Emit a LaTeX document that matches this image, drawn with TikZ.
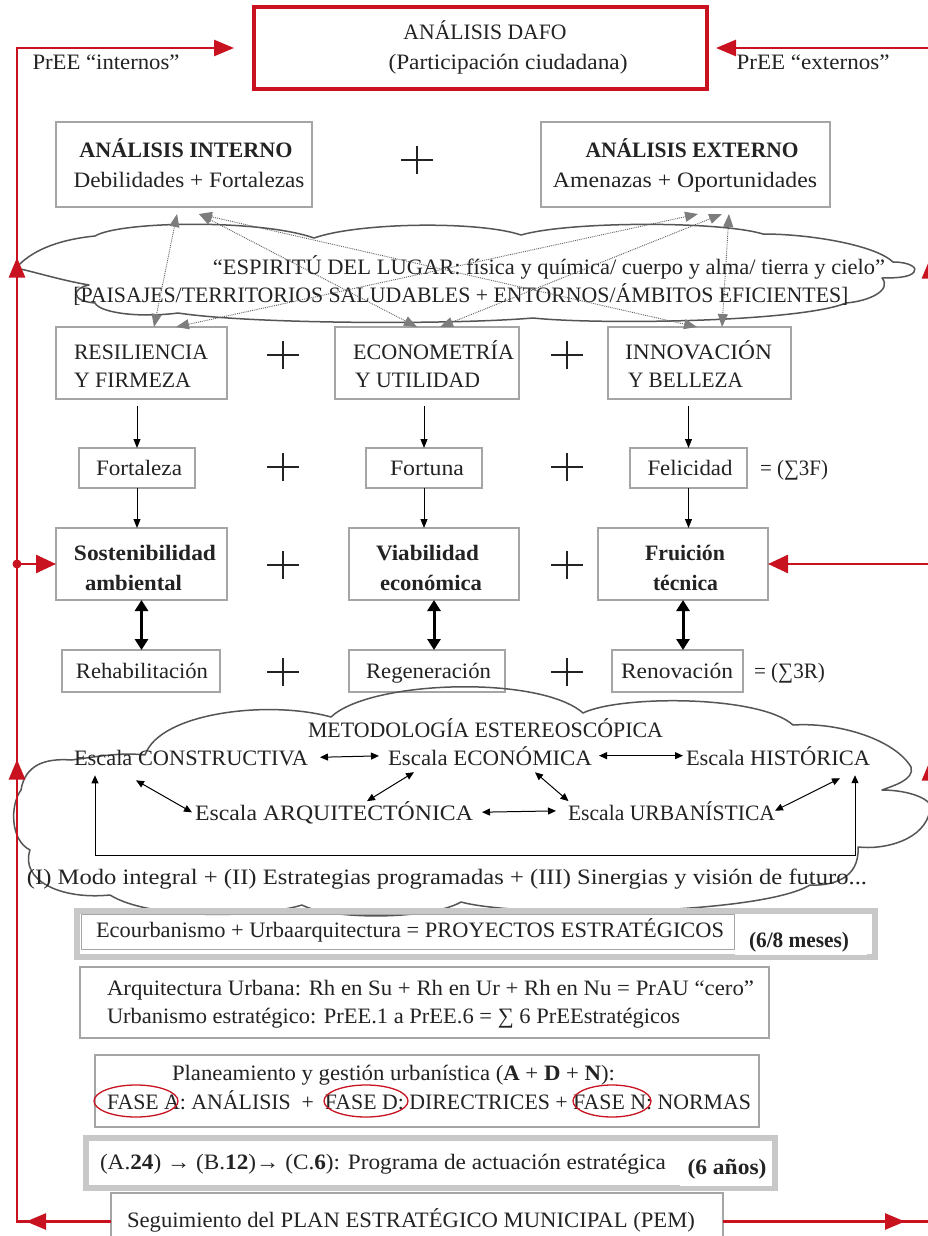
\documentclass[tikz,border=0pt]{standalone}
\usepackage{fontspec}
\setmainfont{Liberation Serif}
\usepackage{graphicx}
\usetikzlibrary{arrows.meta,shapes.geometric,decorations.markings,calc}
\definecolor{textc}{RGB}{35,35,35}
\definecolor{boxc}{RGB}{165,165,165}
\definecolor{framec}{RGB}{200,200,200}
\definecolor{cloudc}{RGB}{85,85,85}
\definecolor{redc}{RGB}{200,18,32}
\definecolor{dotc}{RGB}{95,95,95}
\definecolor{headc}{RGB}{125,125,125}
\newcommand{\fw}[2]{\resizebox{#1}{\height}{#2}}
\begin{document}
\begin{tikzpicture}[x=1pt,y=-1pt,
  txt/.style={inner sep=0pt, outer sep=0pt, text=textc, font=\fontsize{22}{26}\selectfont, anchor=base},
  txtl/.style={txt, anchor=base west},
  gbox/.style={rectangle, draw=boxc, line width=1.5pt, inner sep=0pt, outer sep=0pt},
  thickframe/.style={rectangle, draw=framec, line width=6pt, inner sep=0pt, outer sep=0pt},
  plussign/.style={minimum width=32pt, minimum height=28pt, inner sep=0pt,
    path picture={\draw[textc, line width=1.1pt]
      (path picture bounding box.north) -- (path picture bounding box.south)
      (path picture bounding box.west) -- (path picture bounding box.east);}},
  redline/.style={draw=redc, line width=2.6pt},
  redtip/.style={-{Triangle[length=20pt,width=16pt]}},
  blkarr/.style={draw=black, line width=1pt, -{Triangle[length=9pt,width=7pt]}},
  thkarr/.style={draw=black, line width=3pt, {Triangle[length=11pt,width=13pt]}-{Triangle[length=11pt,width=13pt]}},
  smarr/.style={draw=black, line width=1pt, {Triangle[length=8pt,width=7pt]}-{Triangle[length=8pt,width=7pt]}},
  dotarr/.style={draw=dotc, densely dotted, line width=0.9pt,
    {Triangle[length=13pt,width=10pt,color=headc]}-{Triangle[length=13pt,width=10pt,color=headc]}},
  cloudline/.style={draw=cloudc, line width=1.5pt, line join=round},
  redell/.style={ellipse, draw=redc, line width=1.3pt, inner sep=0pt}
]
\useasboundingbox (0,0) rectangle (927,1236);
\fill[white] (0,0) rectangle (927,1236);

% ---------- DAFO ----------
\node[gbox, draw=redc, line width=3.5pt, minimum width=453pt, minimum height=82pt] (dafo) at (480.5,48) {};
\node[txt] (tdafo1) at (485,40) {\fw{163pt}{ANÁLISIS DAFO}};
\node[txt] (tdafo2) at (508,70) {\fw{239pt}{(Participación ciudadana)}};
\node[txt] (pint) at (106,70) {\fw{147pt}{PrEE “internos”}};
\node[txt] (pext) at (813,70) {\fw{153pt}{PrEE “externos”}};

% ---------- Analysis boxes ----------
\node[gbox, minimum width=256pt, minimum height=85pt] (int) at (184,164.5) {};
\node[txt] (int1) at (186,157) {\fw{213pt}{\textbf{ANÁLISIS INTERNO}}};
\node[txt] (int2) at (189,187) {\fw{231pt}{Debilidades + Fortalezas}};
\node[gbox, minimum width=289pt, minimum height=85pt] (ext) at (685.5,164.5) {};
\node[txt] (ext1) at (692,157) {\fw{213pt}{\textbf{ANÁLISIS EXTERNO}}};
\node[txt] (ext2) at (685,187) {\fw{264pt}{Amenazas + Oportunidades}};
\node[plussign] (p0) at (417,160) {};

% ---------- Cloud 1 ----------
\draw[cloudline] (16,268) .. controls (30,252) and (55,240) .. (95,236)
  .. controls (120,221) and (260,219) .. (314,238)
  .. controls (360,222) and (480,221) .. (521,235)
  .. controls (570,221) and (720,221) .. (763,234)
  .. controls (810,234) and (875,245) .. (893,262)
  .. controls (910,262) and (918,268) .. (914,272)
  .. controls (910,278) and (892,278) .. (882,278)
  .. controls (892,290) and (870,301) .. (846,303)
  .. controls (800,322) and (600,325) .. (533,318)
  .. controls (450,325) and (250,324) .. (178,313)
  .. controls (140,318) and (100,313) .. (95,303)
  .. controls (70,301) and (72,288) .. (89,285)
  .. controls (60,280) and (35,272) .. (16,268) -- cycle;
\node[txt] (c1a) at (549,274) {\fw{672pt}{“ESPIRITÚ DEL LUGAR: física y química/ cuerpo y alma/ tierra y cielo”}};
\node[txt] (c1b) at (461,302) {\fw{775pt}{[PAISAJES/TERRITORIOS SALUDABLES + ENTORNOS/ÁMBITOS EFICIENTES]}};

% ---------- Row 3 ----------
\node[gbox, minimum width=171pt, minimum height=72pt] (res) at (141.5,363) {};
\node[txtl] (res1) at (74,359) {\fw{134pt}{RESILIENCIA}};
\node[txtl] (res2) at (74,387) {\fw{117pt}{Y FIRMEZA}};
\node[gbox, minimum width=184pt, minimum height=72pt] (eco) at (427,363) {};
\node[txtl] (eco1) at (353,359) {\fw{161pt}{ECONOMETRÍA}};
\node[txtl] (eco2) at (355,387) {\fw{125pt}{Y UTILIDAD}};
\node[gbox, minimum width=183pt, minimum height=72pt] (inn) at (699.5,363) {};
\node[txtl] (inn1) at (625,359) {\fw{147pt}{INNOVACIÓN}};
\node[txtl] (inn2) at (628,387) {\fw{115pt}{Y BELLEZA}};
\node[plussign] (p1) at (283,355) {};
\node[plussign] (p2) at (567,355) {};

% dotted links
\draw[dotarr] ([shift={(-7,7)}]int.south) -- ([shift={(12.5,0)}]res.north);
\draw[dotarr] ([shift={(15,7)}]int.south) -- ([shift={(-10,0)}]eco.north);
\draw[dotarr] ([shift={(15,7)}]int.south) -- ([shift={(-2.5,0)}]inn.north);
\draw[dotarr] ([shift={(12.5,7)}]ext.south) -- ([shift={(34.5,0)}]res.north);
\draw[dotarr] ([shift={(36.5,7)}]ext.south) -- ([shift={(13,0)}]eco.north);
\draw[dotarr] ([shift={(43.5,7)}]ext.south) -- ([shift={(22.5,0)}]inn.north);

% ---------- Row 4 ----------
\node[gbox, minimum width=116pt, minimum height=40pt] (fort) at (137,468) {};
\node[txt] (tfort) at (139,475) {\fw{86pt}{Fortaleza}};
\node[gbox, minimum width=116pt, minimum height=40pt] (fortu) at (424,468) {};
\node[txt] (tfortu) at (427,475) {\fw{74pt}{Fortuna}};
\node[gbox, minimum width=117pt, minimum height=40pt] (feli) at (688.5,468) {};
\node[txt] (tfeli) at (690,475) {\fw{85pt}{Felicidad}};
\node[txt] (sum3f) at (794,475) {\fw{68pt}{= (∑3F)}};
\node[plussign] (p3) at (283,467) {};
\node[plussign] (p4) at (567,467) {};

\draw[blkarr] ($(fort.north |- res.south)+(0,7)$) -- (fort.north);
\draw[blkarr] ($(fortu.north |- eco.south)+(0,7)$) -- (fortu.north);
\draw[blkarr] ($(feli.north |- inn.south)+(0,7)$) -- (feli.north);

% ---------- Row 5 ----------
\node[gbox, minimum width=171pt, minimum height=72pt] (sost) at (141.5,564) {};
\node[txt] (sost1) at (145,560) {\fw{142pt}{\textbf{Sostenibilidad}}};
\node[txt] (sost2) at (133.5,590) {\fw{97pt}{\textbf{ambiental}}};
\node[gbox, minimum width=170pt, minimum height=72pt] (viab) at (434,564) {};
\node[txt] (viab1) at (427.5,560) {\fw{103pt}{\textbf{Viabilidad}}};
\node[txt] (viab2) at (431,590) {\fw{102pt}{\textbf{económica}}};
\node[gbox, minimum width=170pt, minimum height=72pt] (frui) at (683,564) {};
\node[txt] (frui1) at (685,560) {\fw{80pt}{\textbf{Fruición}}};
\node[txt] (frui2) at (685.5,590) {\fw{65pt}{\textbf{técnica}}};
\node[plussign] (p5) at (283,565) {};
\node[plussign] (p6) at (567,565) {};

\draw[blkarr] (fort.south) -- (fort.south |- sost.north);
\draw[blkarr] (fortu.south) -- (fortu.south |- viab.north);
\draw[blkarr] (feli.south) -- (feli.south |- frui.north);

% ---------- Row 6 ----------
\node[gbox, minimum width=158pt, minimum height=42pt] (rehab) at (141,671) {};
\node[txt] (trehab) at (142,678) {\fw{132pt}{Rehabilitación}};
\node[gbox, minimum width=156pt, minimum height=42pt] (regen) at (427,671) {};
\node[txt] (tregen) at (428.5,678) {\fw{125pt}{Regeneración}};
\node[gbox, minimum width=131pt, minimum height=42pt] (renov) at (677.5,671) {};
\node[txt] (trenov) at (677,678) {\fw{112pt}{Renovación}};
\node[txt] (sum3r) at (789.5,678) {\fw{71pt}{= (∑3R)}};
\node[plussign] (p7) at (283,672) {};
\node[plussign] (p8) at (567,672) {};

\draw[thkarr] (sost.south) -- (sost.south |- rehab.north);
\draw[thkarr] (viab.south) -- (viab.south |- regen.north);
\draw[thkarr] (frui.south) -- (frui.south |- renov.north);

% ---------- Cloud 2 ----------
\draw[cloudline] (21,790) .. controls (25,765) and (45,758) .. (71,760)
  .. controls (95,757) and (120,752) .. (145,755)
  .. controls (160,712) and (270,700) .. (331,717)
  .. controls (370,680) and (540,675) .. (583,713)
  .. controls (620,695) and (760,695) .. (793,725)
  .. controls (840,722) and (895,740) .. (911,767)
  .. controls (915,780) and (892,786) .. (882,790)
  .. controls (910,790) and (935,800) .. (930,810)
  .. controls (925,840) and (885,850) .. (858,847)
  .. controls (860,880) and (830,886) .. (810,885)
  .. controls (760,915) and (520,918) .. (461,902)
  .. controls (430,920) and (330,920) .. (302,905)
  .. controls (260,918) and (150,920) .. (110,895)
  .. controls (60,900) and (20,880) .. (30,850)
  .. controls (10,840) and (10,805) .. (21,790) -- cycle;
\node[txt] (meto) at (485.5,737) {\fw{355pt}{METODOLOGÍA ESTEREOSCÓPICA}};
\node[txt] (cons) at (191,765) {\fw{234pt}{Escala CONSTRUCTIVA}};
\node[txt] (econ) at (490,765) {\fw{204pt}{Escala ECONÓMICA}};
\node[txt] (hist) at (778,765) {\fw{184pt}{Escala HISTÓRICA}};
\node[txt] (arq) at (334,820) {\fw{278pt}{Escala ARQUITECTÓNICA}};
\node[txt] (urb) at (671.5,820) {\fw{207pt}{Escala URBANÍSTICA}};
\node[txt] (modo) at (447,884) {\fw{840pt}{(I) Modo integral + (II) Estrategias programadas + (III) Sinergias y visión de futuro...}};

\draw[smarr, shorten <=12pt, shorten >=9pt] (cons.east) -- (econ.west);
\draw[smarr, shorten <=7pt, shorten >=3pt] (econ.east) -- (hist.west);
\draw[smarr, shorten <=9pt, shorten >=12pt] (arq.east) -- (urb.west);
\draw[smarr] ([shift={(-55,15)}]cons.south) -- ([xshift=-3pt]arq.west);
\draw[smarr] ([shift={(-76,7)}]econ.south) -- ([shift={(33,0)}]arq.north);
\draw[smarr] ([shift={(45,7)}]econ.south) -- ([shift={(-103,0)}]urb.north);
\draw[smarr] ([shift={(62,13)}]hist.south) -- (urb.east);
\coordinate (fbL) at (95,855);
\coordinate (fbR) at (855,855);
\draw[smarr] ([shift={(-96,10)}]cons.south) -- (fbL) -- (fbR) -- ([shift={(77,10)}]hist.south);

% ---------- Lower boxes ----------
\node[thickframe, minimum width=798pt, minimum height=46pt] (ecof) at (476,934) {};
\node[rectangle, draw=boxc, line width=0.8pt, inner sep=0pt, minimum width=653pt, minimum height=35pt] (ecoin) at (407.5,932) {};
\node[txtl] (ecot) at (96,937) {\fw{628pt}{Ecourbanismo + Urbaarquitectura = PROYECTOS ESTRATÉGICOS}};
\node[rectangle, fill=white, inner sep=0pt, minimum width=132pt, minimum height=36pt] (mesp) at (801,937) {};
\node[txt] (meses) at (799,947) {\fw{100pt}{\textbf{(6/8 meses)}}};

\node[gbox, line width=1.2pt, minimum width=689pt, minimum height=71pt] (arqb) at (424.5,1002.5) {};
\node[txtl] (arq1) at (107,995) {\fw{647pt}{Arquitectura Urbana: Rh en Su + Rh en Ur + Rh en Nu = PrAU “cero”}};
\node[txtl] (arq2) at (107,1023) {\fw{573pt}{Urbanismo estratégico: PrEE.1 a PrEE.6 = ∑ 6 PrEEstratégicos}};

\node[gbox, line width=1.2pt, minimum width=664pt, minimum height=72pt] (planb) at (427,1091) {};
\node[txtl] (plan1) at (172,1080) {\fw{443pt}{Planeamiento y gestión urbanística (\textbf{A} + \textbf{D} + \textbf{N}):}};
\node[txtl] (plan2) at (107,1109) {\fw{644pt}{FASE A: ANÁLISIS \ + \ FASE D: DIRECTRICES + FASE N: NORMAS}};
\node[redell, minimum width=84pt, minimum height=32pt] (eA) at (136,1101) {};
\node[redell, minimum width=84pt, minimum height=32pt] (eD) at (366,1101) {};
\node[redell, minimum width=78pt, minimum height=32pt] (eN) at (612,1101) {};

\node[thickframe, minimum width=689pt, minimum height=50pt] (progf) at (430.5,1163) {};
\node[txtl] (prog) at (100,1169) {\fw{566pt}{(A.\textbf{24}) \textbf{→} (B.\textbf{12})\textbf{→} (C.\textbf{6}): Programa de actuación estratégica}};
\node[rectangle, fill=white, inner sep=0pt, minimum width=92pt, minimum height=40pt] (anosp) at (726,1166) {};
\node[txt] (anos) at (727,1174) {\fw{79pt}{\textbf{(6 años)}}};

\node[gbox, line width=1.2pt, minimum width=612pt, minimum height=57pt] (seg) at (417,1221.5) {};
\node[txtl] (segt) at (127,1227) {\fw{568pt}{Seguimiento del PLAN ESTRATÉGICO MUNICIPAL (PEM)}};

% ---------- Red feedback loops ----------
\coordinate (lb) at (17,1221.5);
\coordinate (lt) at (17,48);
\coordinate (rb) at (930,1221.5);
\coordinate (rt) at (930,48);
\coordinate (lmid) at (17,564);
\coordinate (rmid) at (930,564);
\draw[redline, redtip, postaction={decorate}, decoration={markings,
    mark=at position 85pt with {\arrow{Triangle[length=20pt,width=16pt]}},
    mark=at position 556pt with {\arrow{Triangle[length=20pt,width=16pt]}},
    mark=at position 1058pt with {\arrow{Triangle[length=20pt,width=16pt]}}}]
  (seg.west) -- (lb) -- (lt) -- ([xshift=-20pt]dafo.west);
\draw[redline, redtip, postaction={decorate}, decoration={markings,
    mark=at position 182pt with {\arrow{Triangle[length=20pt,width=16pt]}},
    mark=at position 668pt with {\arrow{Triangle[length=20pt,width=16pt]}},
    mark=at position 1170pt with {\arrow{Triangle[length=20pt,width=16pt]}}}]
  (seg.east) -- (rb) -- (rt) -- ([xshift=9pt]dafo.east);
\fill[redc] (lmid) circle (4.5pt);
\draw[redline, -{Triangle[length=20pt,width=18pt]}] (lmid) -- (sost.west);
\draw[redline, -{Triangle[length=20pt,width=18pt]}] (rmid) -- (frui.east);
\end{tikzpicture}
\end{document}
